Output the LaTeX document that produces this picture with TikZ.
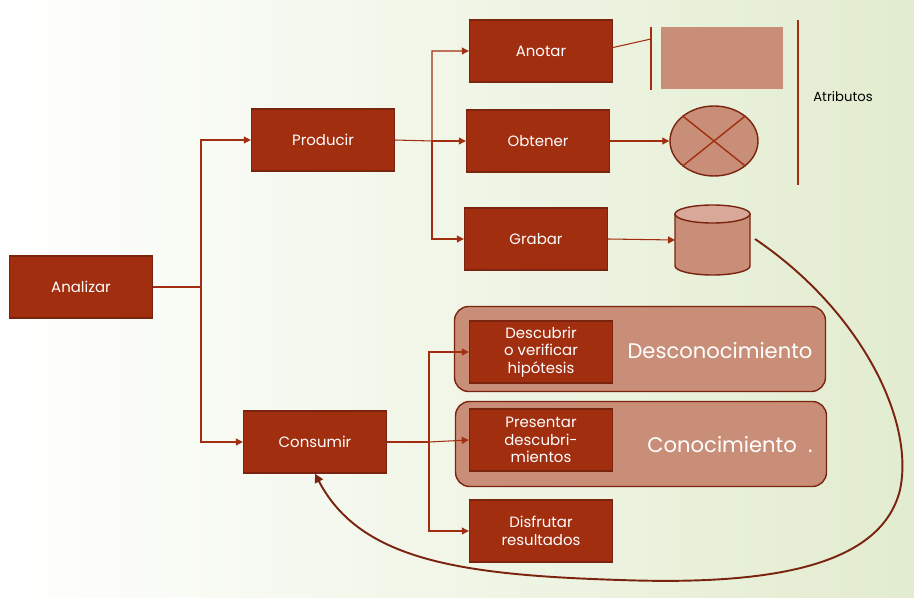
\documentclass[tikz,border=0pt]{standalone}
\usepackage{fontspec}
\setmainfont{Poppins}
\usetikzlibrary{arrows.meta, shapes.geometric, calc}
\definecolor{oxido}{HTML}{A22E10}
\definecolor{oxidoborde}{HTML}{7A2410}
\definecolor{salmon}{HTML}{C98E78}
\definecolor{salmonclaro}{HTML}{D8A898}
\definecolor{verdefondo}{HTML}{E2ECCF}

\begin{document}
\begin{tikzpicture}[
        x=0.02cm, y=-0.02cm,
        box/.style={rectangle, draw=oxidoborde, thick, fill=oxido, text=white, minimum width=2.86cm, minimum height=1.24cm, align=center, font=\fontsize{8.5}{10}\selectfont, inner sep=1pt},
        grupo/.style={rectangle, rounded corners=8pt, draw=oxidoborde, thick, fill=salmon, minimum width=7.42cm, minimum height=1.7cm},
        arrow/.style={-{Triangle[length=4pt,width=4pt]}, draw=oxido, semithick},
        linea/.style={draw=oxido, thick}
    ]

    % Background
    \shade[left color=white, right color=verdefondo] (0,0) rectangle (914,598);
    \useasboundingbox (0,0) rectangle (914,598);

    % Groups
    \node[grupo] (gdesc) at (640,349) {};
    \node[grupo] (gcono) at (641,444) {};

    % Nodes
    \node[box] (analizar) at (81,287) {Analizar};
    \node[box] (producir) at (323,140) {Producir};
    \node[box] (consumir) at (315,442) {Consumir};
    \node[box] (anotar) at (541,51) {Anotar};
    \node[box] (obtener) at (538,141) {Obtener};
    \node[box] (grabar) at (536,239) {Grabar};
    \node[box] (descubrir) at (541,352) {Descubrir\\o verificar\\hipótesis};
    \node[box] (presentar) at (541,440) {Presentar\\descubri-\\mientos};
    \node[box] (disfrutar) at (541,531) {Disfrutar\\resultados};

    \node[text=white, font=\fontsize{12}{14}\selectfont] (tdesc) at (720,351) {Desconocimiento};
    \node[text=white, font=\fontsize{12}{14}\selectfont] (tcono) at (730,445) {Conocimiento\ \ .};

    % Attributes
    \node[rectangle, fill=salmon, minimum width=2.44cm, minimum height=1.26cm] (tabla) at (722,58) {};
    \coordinate (barra) at (651,39);
    \draw[linea] (651,27) -- (651,90);
    \node[ellipse, draw=oxidoborde, thick, fill=salmon, minimum width=1.76cm, minimum height=1.4cm] (esfera) at (714,141) {};
    \draw[linea] (esfera.north west) -- (esfera.south east);
    \draw[linea] (esfera.north east) -- (esfera.south west);
    \coordinate (base) at (675,240);
    \draw[draw=oxidoborde, thick, fill=salmon] (675,214) -- (675,266) arc[start angle=180, end angle=360, x radius=37.5, y radius=-9] -- (750,214) -- cycle;
    \draw[draw=oxidoborde, thick, fill=salmonclaro] (712.5,214) ellipse [x radius=37.5, y radius=9];
    \draw[linea] (798,20) -- (798,185);
    \node[font=\fontsize{7.5}{9}\selectfont] (atributos) at (843,97) {Atributos};

    % Arrows
    \coordinate (ra) at (201,287);
    \draw[arrow] (analizar.east) -- (ra) |- (producir.west);
    \draw[arrow] (ra) |- (consumir.west);
    \coordinate (rp) at (432,141);
    \draw[arrow] (producir.east) -- (rp) |- (anotar.west);
    \draw[arrow] (rp) -- (obtener.west);
    \draw[arrow] (rp) |- (grabar.west);
    \coordinate (rc) at (429,442);
    \draw[arrow] (consumir.east) -- (rc) |- (descubrir.west);
    \draw[arrow] (rc) -- (presentar.west);
    \draw[arrow] (rc) |- (disfrutar.west);
    \draw[linea, semithick] (593,52) -- (barra);
    \draw[arrow] (obtener.east) -- (esfera.west);
    \draw[arrow] (grabar.east) -- (base);

    % Feedback curve
    \coordinate (inicio) at (755,239);
    \draw[-{Triangle[length=5pt,width=5pt]}, draw=oxidoborde, line width=1.1pt] (inicio) .. controls (860,310) and (915,420) .. (900,490)
        .. controls (880,570) and (760,585) .. (620,580)
        .. controls (460,575) and (360,560) .. (consumir.south);
\end{tikzpicture}
\end{document}
